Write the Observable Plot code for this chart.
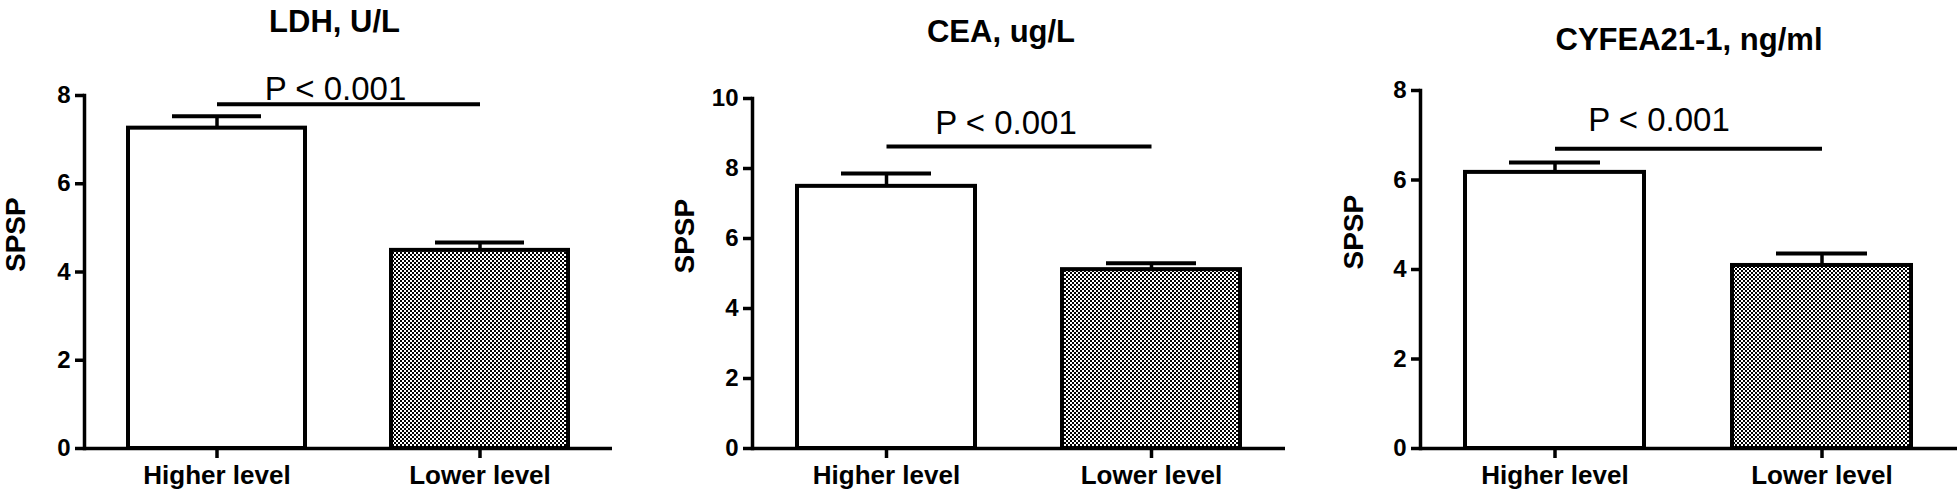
<!DOCTYPE html>
<html><head><meta charset="utf-8">
<script src="https://cdn.jsdelivr.net/npm/d3@7"></script>
<script src="https://cdn.jsdelivr.net/npm/@observablehq/plot@0.6"></script>
<style>
html,body{margin:0;padding:0;background:#fff;}
#wrap{position:relative;width:1960px;height:492px;overflow:hidden;}
#wrap .panel{position:absolute;top:0;}
</style></head><body>
<svg width="0" height="0" style="position:absolute">
<defs><pattern id="checker" width="4" height="4" patternUnits="userSpaceOnUse">
<rect width="4" height="4" fill="#fff"/><rect width="2" height="2" fill="#000"/><rect x="2" y="2" width="2" height="2" fill="#000"/></pattern></defs></svg>
<div id="wrap"></div>
<script>
const categories = ["Higher level", "Lower level"];
const titles = ["LDH, U/L", "CEA, ug/L", "CYFEA21-1, ng/ml"];
const ldhMean = [7.26, 4.49];
const ldhErr = [0.27, 0.18];
const ceaMean = [7.49, 5.11];
const ceaErr = [0.37, 0.18];
const cyfMean = [6.17, 4.09];
const cyfErr = [0.22, 0.27];
const pLabel = "P < 0.001";
const pLineY = [7.8, 8.63, 6.7];
const pTextY = [7.89, 9.0, 7.1];
const yMax = [8, 10, 8];
const yTicks = [[0, 2, 4, 6, 8], [0, 2, 4, 6, 8, 10], [0, 2, 4, 6, 8]];
const yLabel = "SPSP";

const means = [ldhMean, ceaMean, cyfMean];
const errs = [ldhErr, ceaErr, cyfErr];

const layout = [
  {left: 0, width: 650, ml: 84, mr: 38, mt: 95, titleY: 31, titleDx: -14, pDx: -13, labelDx: -68},
  {left: 650, width: 665, ml: 102, mr: 30, mt: 98, titleY: 41, titleDx: -18, pDx: -13, labelDx: -67},
  {left: 1315, width: 645, ml: 105, mr: 3, mt: 90, titleY: 49, titleDx: 0, pDx: -30, labelDx: -66}
];
const FONT = '"Liberation Sans", Arial, Helvetica, sans-serif';
const wrap = document.getElementById("wrap");

layout.forEach((L, i) => {
  const rows = categories.map((c, j) => ({cat: c, mean: means[i][j], top: means[i][j] + errs[i][j]}));
  const plot = Plot.plot({
    width: L.width, height: 492,
    marginLeft: L.ml, marginRight: L.mr, marginTop: L.mt, marginBottom: 44,
    style: {fontFamily: FONT, color: "#000", background: "transparent", overflow: "visible"},
    x: {domain: categories, paddingInner: 0.328, paddingOuter: 0.167, axis: null},
    y: {domain: [0, yMax[i]], axis: null},
    marks: [
      Plot.barY(rows, {filter: d => d.cat === categories[0], x: "cat", y: "mean", fill: "#fff", stroke: "#000", strokeWidth: 4}),
      Plot.barY(rows, {filter: d => d.cat === categories[1], x: "cat", y: "mean", fill: "url(#checker)", stroke: "#000", strokeWidth: 4}),
      Plot.ruleX(rows, {x: "cat", y1: "mean", y2: "top", strokeWidth: 3.5}),
      Plot.tickY(rows, {x: "cat", y: "top", insetLeft: 44, insetRight: 44, strokeWidth: 4}),
      Plot.link([{a: categories[0], b: categories[1], y: pLineY[i]}], {x1: "a", x2: "b", y1: "y", y2: "y", strokeWidth: 4}),
      Plot.text([{t: pLabel, y: pTextY[i]}], {text: "t", y: "y", frameAnchor: "middle", lineAnchor: "bottom", fontSize: 33, dx: L.pDx}),
      Plot.text([{t: titles[i]}], {text: "t", frameAnchor: "top", lineAnchor: "bottom", dy: L.titleY - L.mt, fontSize: 31, fontWeight: "bold", dx: L.titleDx}),
      Plot.text([{t: yLabel}], {text: "t", frameAnchor: "left", rotate: -90, dx: L.labelDx, lineAnchor: "middle", fontSize: 28, fontWeight: "bold"}),
      Plot.ruleY([0], {strokeWidth: 3.5}),
      Plot.frame({anchor: "left", strokeWidth: 3.5}),
      Plot.axisY({ticks: yTicks[i], tickSize: 9, tickPadding: 5, fontSize: 24, fontWeight: "bold", strokeWidth: 3.5, label: null, tickFormat: d => String(d)}),
      Plot.axisX({tickSize: 10, tickPadding: 7, fontSize: 26, fontWeight: "bold", strokeWidth: 3.5, label: null})
    ]
  });
  const div = document.createElement("div");
  div.className = "panel";
  div.style.left = L.left + "px";
  div.appendChild(plot);
  wrap.appendChild(div);
});
</script>
</body></html>
